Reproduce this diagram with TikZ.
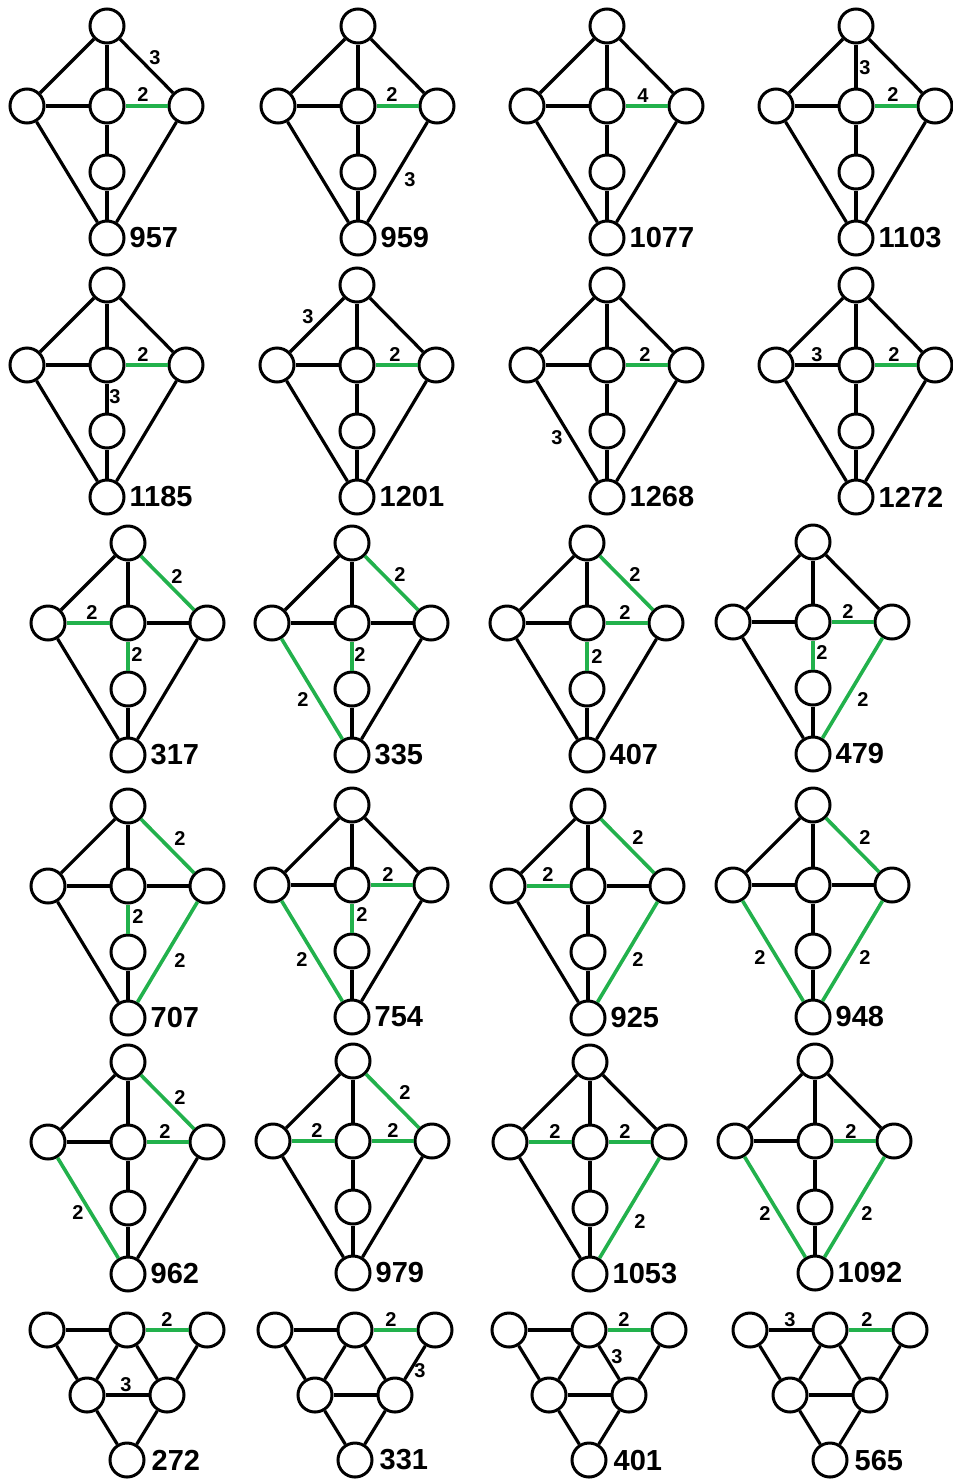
\documentclass[tikz,border=0pt]{standalone}
\usepackage{fontspec}
\setmainfont{Liberation Sans}
\usetikzlibrary{positioning}
\definecolor{pgreen}{RGB}{34,177,76}
\newcommand{\numfont}{\fontsize{29}{29}\selectfont\bfseries}
\newcommand{\wtfont}{\fontsize{20}{20}\selectfont\bfseries}
\tikzset{
  v/.style={circle,draw,line width=3pt,minimum size=34pt,inner sep=0pt},
  e/.style={line width=3.2pt},
  hi/.style={draw=pgreen,line width=3.6pt},
  wt/.style={font=\wtfont,inner sep=0pt},
  num/.style={font=\numfont,inner sep=0pt},
  % hooks for single edges, empty unless a scope sets them
  eTL/.style={},eTC/.style={},eTR/.style={},eLC/.style={},eCR/.style={},
  eCM/.style={},eMB/.style={},eLB/.style={},eRB/.style={},
  eLP/.style={},eCP/.style={},eCQ/.style={},eRQ/.style={},ePQ/.style={},
  ePB/.style={},eQB/.style={}
}
% kite graph: #1 name, #2 #3 centre vertex, #4 number
\newcommand{\kite}[4]{%
  \begin{scope}[shift={(#2,#3)}]
    \node[v] (#1C) at (0,0) {};
    \node[v] (#1T) at (0,-80) {};
    \node[v] (#1L) at (-80,0) {};
    \node[v] (#1R) at (79,0) {};
    \node[v] (#1M) at (0,66) {};
    \node[v] (#1B) at (0,132) {};
  \end{scope}
  \draw[e,eTL] (#1T) -- (#1L);
  \draw[e,eTC] (#1T) -- (#1C);
  \draw[e,eTR] (#1T) -- (#1R);
  \draw[e,eLC] (#1L) -- (#1C);
  \draw[e,eCR] (#1C) -- (#1R);
  \draw[e,eCM] (#1C) -- (#1M);
  \draw[e,eMB] (#1M) -- (#1B);
  \draw[e,eLB] (#1L) -- (#1B);
  \draw[e,eRB] (#1R) -- (#1B);
  \node[num,right=4pt of #1B] {#4};
}
% triangle graph: #1 name, #2 #3 top middle vertex, #4 number
\newcommand{\tri}[4]{%
  \begin{scope}[shift={(#2,#3)}]
    \node[v] (#1C) at (0,0) {};
    \node[v] (#1L) at (-80,0) {};
    \node[v] (#1R) at (80,0) {};
    \node[v] (#1P) at (-40,65) {};
    \node[v] (#1Q) at (40,65) {};
    \node[v] (#1B) at (0,130) {};
  \end{scope}
  \draw[e,eLC] (#1L) -- (#1C);
  \draw[e,eCR] (#1C) -- (#1R);
  \draw[e,eLP] (#1L) -- (#1P);
  \draw[e,eCP] (#1C) -- (#1P);
  \draw[e,eCQ] (#1C) -- (#1Q);
  \draw[e,eRQ] (#1R) -- (#1Q);
  \draw[e,ePQ] (#1P) -- (#1Q);
  \draw[e,ePB] (#1P) -- (#1B);
  \draw[e,eQB] (#1Q) -- (#1B);
  \node[num,right=6pt of #1B] {#4};
}
\begin{document}
\begin{tikzpicture}[x=1pt,y=-1pt]
\useasboundingbox (0,0) rectangle (953,1481);

% row 1
\begin{scope}[eCR/.style=hi]
  \kite{a}{107}{106}{957}
  \kite{b}{358}{106}{959}
  \kite{c}{607}{106}{1077}
  \kite{d}{856}{106}{1103}
\end{scope}
\node[wt] at ([shift={(48,-48)}]aC) {3};
\node[wt] at ([shift={(36,-11)}]aC) {2};
\node[wt] at ([shift={(34,-11)}]bC) {2};
\node[wt] at ([shift={(52,74)}]bC) {3};
\node[wt] at ([shift={(36,-10)}]cC) {4};
\node[wt] at ([shift={(9,-38)}]dC) {3};
\node[wt] at ([shift={(37,-11)}]dC) {2};

% row 2
\begin{scope}[eCR/.style=hi]
  \kite{e}{107}{365}{1185}
  \kite{f}{357}{365}{1201}
  \kite{g}{607}{365}{1268}
  \kite{h}{856}{365}{1272}
\end{scope}
\node[wt] at ([shift={(36,-10)}]eC) {2};
\node[wt] at ([shift={(8,32)}]eC) {3};
\node[wt] at ([shift={(-49,-48)}]fC) {3};
\node[wt] at ([shift={(38,-10)}]fC) {2};
\node[wt] at ([shift={(38,-10)}]gC) {2};
\node[wt] at ([shift={(-50,73)}]gC) {3};
\node[wt] at ([shift={(-39,-10)}]hC) {3};
\node[wt] at ([shift={(38,-10)}]hC) {2};

% row 3
\begin{scope}[eTR/.style=hi,eLC/.style=hi,eCM/.style=hi]
  \kite{i}{128}{623}{317}
\end{scope}
\begin{scope}[eTR/.style=hi,eCM/.style=hi,eLB/.style=hi]
  \kite{j}{352}{623}{335}
\end{scope}
\begin{scope}[eTR/.style=hi,eCR/.style=hi,eCM/.style=hi]
  \kite{k}{587}{623}{407}
\end{scope}
\begin{scope}[eCR/.style=hi,eCM/.style=hi,eRB/.style=hi]
  \kite{l}{813}{622}{479}
\end{scope}
\node[wt] at ([shift={(49,-46)}]iC) {2};
\node[wt] at ([shift={(-36,-10)}]iC) {2};
\node[wt] at ([shift={(9,32)}]iC) {2};
\node[wt] at ([shift={(48,-48)}]jC) {2};
\node[wt] at ([shift={(8,32)}]jC) {2};
\node[wt] at ([shift={(-49,77)}]jC) {2};
\node[wt] at ([shift={(48,-48)}]kC) {2};
\node[wt] at ([shift={(38,-10)}]kC) {2};
\node[wt] at ([shift={(10,34)}]kC) {2};
\node[wt] at ([shift={(35,-10)}]lC) {2};
\node[wt] at ([shift={(9,31)}]lC) {2};
\node[wt] at ([shift={(50,78)}]lC) {2};

% row 4
\begin{scope}[eTR/.style=hi,eCM/.style=hi,eRB/.style=hi]
  \kite{m}{128}{886}{707}
\end{scope}
\begin{scope}[eCR/.style=hi,eCM/.style=hi,eLB/.style=hi]
  \kite{n}{352}{885}{754}
\end{scope}
\begin{scope}[eTR/.style=hi,eLC/.style=hi,eRB/.style=hi]
  \kite{o}{588}{886}{925}
\end{scope}
\begin{scope}[eTR/.style=hi,eLB/.style=hi,eRB/.style=hi]
  \kite{p}{813}{885}{948}
\end{scope}
\node[wt] at ([shift={(52,-47)}]mC) {2};
\node[wt] at ([shift={(10,31)}]mC) {2};
\node[wt] at ([shift={(52,75)}]mC) {2};
\node[wt] at ([shift={(36,-10)}]nC) {2};
\node[wt] at ([shift={(10,30)}]nC) {2};
\node[wt] at ([shift={(-50,75)}]nC) {2};
\node[wt] at ([shift={(50,-48)}]oC) {2};
\node[wt] at ([shift={(-40,-11)}]oC) {2};
\node[wt] at ([shift={(50,74)}]oC) {2};
\node[wt] at ([shift={(52,-47)}]pC) {2};
\node[wt] at ([shift={(-53,73)}]pC) {2};
\node[wt] at ([shift={(52,73)}]pC) {2};

% row 5
\begin{scope}[eTR/.style=hi,eCR/.style=hi,eLB/.style=hi]
  \kite{q}{128}{1142}{962}
\end{scope}
\begin{scope}[eTR/.style=hi,eLC/.style=hi,eCR/.style=hi]
  \kite{r}{353}{1141}{979}
\end{scope}
\begin{scope}[eLC/.style=hi,eCR/.style=hi,eRB/.style=hi]
  \kite{s}{590}{1142}{1053}
\end{scope}
\begin{scope}[eCR/.style=hi,eLB/.style=hi,eRB/.style=hi]
  \kite{t}{815}{1141}{1092}
\end{scope}
\node[wt] at ([shift={(52,-44)}]qC) {2};
\node[wt] at ([shift={(37,-10)}]qC) {2};
\node[wt] at ([shift={(-50,71)}]qC) {2};
\node[wt] at ([shift={(52,-48)}]rC) {2};
\node[wt] at ([shift={(-36,-10)}]rC) {2};
\node[wt] at ([shift={(40,-10)}]rC) {2};
\node[wt] at ([shift={(-35,-10)}]sC) {2};
\node[wt] at ([shift={(35,-10)}]sC) {2};
\node[wt] at ([shift={(50,80)}]sC) {2};
\node[wt] at ([shift={(36,-9)}]tC) {2};
\node[wt] at ([shift={(-50,73)}]tC) {2};
\node[wt] at ([shift={(52,73)}]tC) {2};

% row 6
\begin{scope}[eCR/.style=hi]
  \tri{u}{127}{1330}{272}
  \tri{w}{355}{1330}{331}
  \tri{x}{589}{1330}{401}
  \tri{z}{830}{1330}{565}
\end{scope}
\node[wt] at ([shift={(40,-10)}]uC) {2};
\node[wt] at ([shift={(-1,55)}]uC) {3};
\node[wt] at ([shift={(36,-11)}]wC) {2};
\node[wt] at ([shift={(65,41)}]wC) {3};
\node[wt] at ([shift={(35,-10)}]xC) {2};
\node[wt] at ([shift={(28,27)}]xC) {3};
\node[wt] at ([shift={(-40,-10)}]zC) {3};
\node[wt] at ([shift={(37,-10)}]zC) {2};
\end{tikzpicture}
\end{document}
